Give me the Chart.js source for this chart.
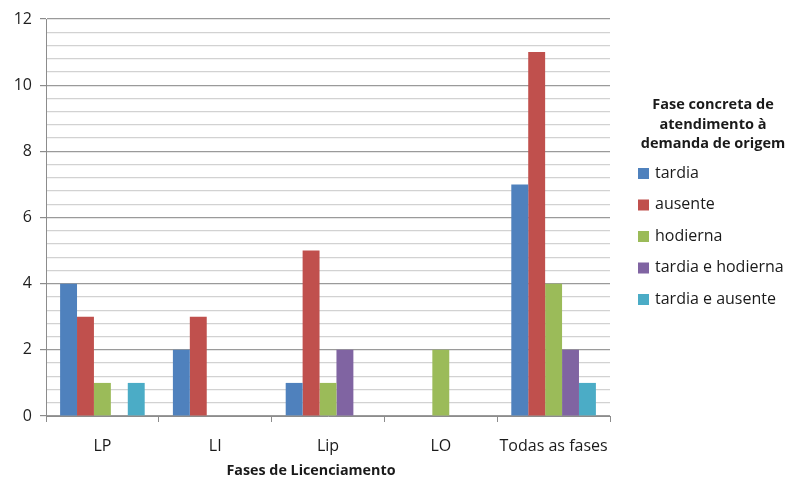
<!DOCTYPE html>
<html>
<head>
<meta charset="utf-8">
<script src="https://cdn.jsdelivr.net/npm/chart.js@4/dist/chart.umd.min.js"></script>
<style>
  html, body { margin: 0; padding: 0; background: #ffffff; }
  #wrap { position: relative; width: 791px; height: 479px; }
</style>
</head>
<body>
<div id="wrap"><canvas id="chart" width="791" height="479"></canvas></div>
<script>
// Licensing phases (categories)
const categories = ['LP', 'LI', 'Lip', 'LO', 'Todas as fases'];

// Counts per series
const tardia = [4, 2, 1, 0, 7];
const ausente = [3, 3, 5, 0, 11];
const hodierna = [1, 0, 1, 2, 4];
const tardiaHodierna = [0, 0, 2, 0, 2];
const tardiaAusente = [1, 0, 0, 0, 1];

const seriesNames = ['tardia', 'ausente', 'hodierna', 'tardia e hodierna', 'tardia e ausente'];
const seriesColors = ['#4F81BD', '#C0504D', '#9BBB59', '#8064A2', '#4BACC6'];

const legendTitle = ['Fase concreta de', 'atendimento à', 'demanda de origem'];
const xAxisTitle = 'Fases de Licenciamento';

const yMax = 12;
const yMinorStep = 0.4;
const yMajorStep = 2;

const FONT = '"Open Sans", "Liberation Sans", sans-serif';

const isMajor = v => Math.abs(v / yMajorStep - Math.round(v / yMajorStep)) < 1e-6;

// Draws the right-hand legend block and the x-axis title
const sideTextPlugin = {
  id: 'sideText',
  afterDraw(chart) {
    const ctx = chart.ctx;
    ctx.save();
    ctx.fillStyle = '#1a1a1a';
    ctx.textAlign = 'center';
    ctx.textBaseline = 'middle';
    ctx.font = 'bold 14.5px ' + FONT;
    const titleX = 713;
    legendTitle.forEach((line, i) => ctx.fillText(line, titleX, 105 + i * 19.5));

    ctx.textAlign = 'left';
    ctx.font = '16px ' + FONT;
    chart.data.datasets.forEach((ds, i) => {
      const y = 173 + i * 31.5;
      ctx.fillStyle = ds.backgroundColor;
      ctx.fillRect(638, y - 5, 11, 11);
      ctx.fillStyle = '#1a1a1a';
      ctx.fillText(ds.label, 655, y);
    });

    ctx.textAlign = 'center';
    ctx.font = 'bold 14.3px ' + FONT;
    ctx.fillText(xAxisTitle, 311, 471);
    ctx.restore();
  }
};

const seriesData = [tardia, ausente, hodierna, tardiaHodierna, tardiaAusente];

new Chart(document.getElementById('chart'), {
  type: 'bar',
  data: {
    labels: categories,
    datasets: seriesData.map((d, i) => ({
      label: seriesNames[i],
      data: d,
      backgroundColor: seriesColors[i],
      borderWidth: 0,
      categoryPercentage: 0.75,
      barPercentage: 1.0
    }))
  },
  options: {
    responsive: false,
    animation: false,
    devicePixelRatio: 1,
    layout: { padding: { top: 19, right: 181, left: 0, bottom: 0 } },
    plugins: {
      legend: { display: false },
      tooltip: { enabled: false }
    },
    scales: {
      x: {
        afterFit(scale) { scale.height = 63; },
        grid: {
          offset: true,
          drawOnChartArea: false,
          tickLength: 6,
          tickColor: '#8c8c8c'
        },
        border: { color: '#8c8c8c', width: 1 },
        ticks: {
          color: '#1a1a1a',
          font: { family: FONT, size: 16 },
          padding: 15,
          autoSkip: false,
          maxRotation: 0,
          minRotation: 0
        }
      },
      y: {
        min: 0,
        max: yMax,
        afterFit(scale) { scale.width = 46; },
        grid: {
          color: c => (c.tick && isMajor(c.tick.value)) ? '#9a9a9a' : '#d2d2d2',
          tickColor: c => (c.tick && isMajor(c.tick.value)) ? '#8c8c8c' : 'rgba(0,0,0,0)',
          tickLength: 6,
          lineWidth: 1.2
        },
        border: { color: '#8c8c8c', width: 1 },
        ticks: {
          stepSize: yMinorStep,
          autoSkip: false,
          color: '#1f1f1f',
          font: { family: FONT, size: 16 },
          padding: 8,
          callback: v => isMajor(v) ? String(Math.round(v)) : ''
        }
      }
    }
  },
  plugins: [sideTextPlugin]
});
</script>
</body>
</html>
